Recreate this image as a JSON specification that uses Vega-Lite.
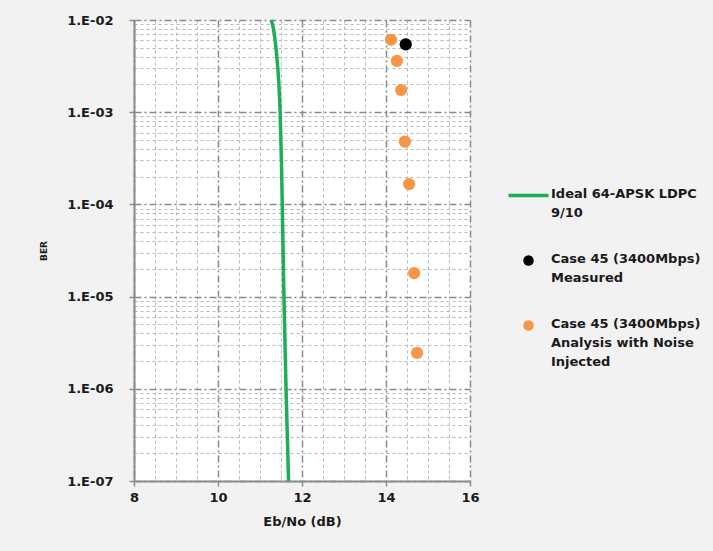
{
  "$schema": "https://vega.github.io/schema/vega-lite/v6.json",
  "width": 336,
  "height": 461,
  "autosize": "none",
  "padding": {"left": 134, "top": 20, "right": 243, "bottom": 70},
  "background": "#f2f2f2",
  "config": {
    "view": {"fill": "white", "stroke": null},
    "font": "DejaVu Sans",
    "axis": {
      "labelFont": "DejaVu Sans",
      "labelFontSize": 13,
      "labelFontWeight": "bold",
      "labelColor": "#1a1a1a",
      "titleFont": "DejaVu Sans",
      "titleFontWeight": "bold",
      "titleColor": "#1a1a1a",
      "domainColor": "#8c8c8c",
      "domainWidth": 2,
      "tickColor": "#8c8c8c",
      "tickWidth": 1.5,
      "tickSize": 5,
      "labelOverlap": false,
      "labelFlush": false
    }
  },
  "datasets": {
    "ideal": [
      {"ebno": 11.27, "ber": 0.01, "series": "Ideal 64-APSK LDPC 9/10"},
      {"ebno": 11.32, "ber": 0.008, "series": "Ideal 64-APSK LDPC 9/10"},
      {"ebno": 11.36, "ber": 0.006, "series": "Ideal 64-APSK LDPC 9/10"},
      {"ebno": 11.4, "ber": 0.004, "series": "Ideal 64-APSK LDPC 9/10"},
      {"ebno": 11.45, "ber": 0.002, "series": "Ideal 64-APSK LDPC 9/10"},
      {"ebno": 11.48, "ber": 0.001, "series": "Ideal 64-APSK LDPC 9/10"},
      {"ebno": 11.51, "ber": 0.0003, "series": "Ideal 64-APSK LDPC 9/10"},
      {"ebno": 11.53, "ber": 0.0001, "series": "Ideal 64-APSK LDPC 9/10"},
      {"ebno": 11.57, "ber": 0.00001, "series": "Ideal 64-APSK LDPC 9/10"},
      {"ebno": 11.62, "ber": 0.000001, "series": "Ideal 64-APSK LDPC 9/10"},
      {"ebno": 11.68, "ber": 0.0000001, "series": "Ideal 64-APSK LDPC 9/10"}
    ],
    "points": [
      {"ebno": 14.12, "ber": 0.0061, "series": "Case 45 (3400Mbps) Analysis with Noise Injected"},
      {"ebno": 14.26, "ber": 0.0036, "series": "Case 45 (3400Mbps) Analysis with Noise Injected"},
      {"ebno": 14.36, "ber": 0.00174, "series": "Case 45 (3400Mbps) Analysis with Noise Injected"},
      {"ebno": 14.45, "ber": 0.00048, "series": "Case 45 (3400Mbps) Analysis with Noise Injected"},
      {"ebno": 14.55, "ber": 0.000166, "series": "Case 45 (3400Mbps) Analysis with Noise Injected"},
      {"ebno": 14.67, "ber": 0.000018, "series": "Case 45 (3400Mbps) Analysis with Noise Injected"},
      {"ebno": 14.74, "ber": 0.00000245, "series": "Case 45 (3400Mbps) Analysis with Noise Injected"},
      {"ebno": 14.47, "ber": 0.00545, "series": "Case 45 (3400Mbps) Measured"}
    ]
  },
  "encoding": {
    "x": {
      "field": "ebno",
      "type": "quantitative",
      "scale": {"domain": [8, 16], "nice": false, "zero": false},
      "axis": {
        "title": "Eb/No (dB)",
        "titleFontSize": 13,
        "titlePadding": 11,
        "labelPadding": 5,
        "values": [8, 8.5, 9, 9.5, 10, 10.5, 11, 11.5, 12, 12.5, 13, 13.5, 14, 14.5, 15, 15.5, 16],
        "labelExpr": "datum.value % 2 == 0 ? format(datum.value, 'd') : ''",
        "tickOpacity": {"condition": {"test": "datum.value % 2 == 0", "value": 1}, "value": 0},
        "gridDash": {"condition": {"test": "datum.value % 2 == 0", "value": [7, 3, 2, 3]}, "value": [3, 3]},
        "gridColor": {"condition": {"test": "datum.value % 2 == 0", "value": "#8a8a8a"}, "value": "#b8b8b8"},
        "gridWidth": {"condition": {"test": "datum.value % 2 == 0", "value": 1.5}, "value": 1}
      }
    },
    "y": {
      "field": "ber",
      "type": "quantitative",
      "scale": {"type": "log", "domain": [0.0000001, 0.01], "nice": false},
      "axis": {
        "title": "BER",
        "titleFontSize": 9,
        "titlePadding": 18,
        "labelPadding": 16,
        "values": [1e-7, 2e-7, 3e-7, 4e-7, 5e-7, 6e-7, 7e-7, 8e-7, 9e-7, 1e-6, 2e-6, 3e-6, 4e-6, 5e-6, 6e-6, 7e-6, 8e-6, 9e-6, 1e-5, 2e-5, 3e-5, 4e-5, 5e-5, 6e-5, 7e-5, 8e-5, 9e-5, 1e-4, 2e-4, 3e-4, 4e-4, 5e-4, 6e-4, 7e-4, 8e-4, 9e-4, 1e-3, 2e-3, 3e-3, 4e-3, 5e-3, 6e-3, 7e-3, 8e-3, 9e-3, 1e-2],
        "labelExpr": "abs(log(datum.value)/LN10 - round(log(datum.value)/LN10)) < 0.001 ? '1.E-' + format(-round(log(datum.value)/LN10), '02d') : ''",
        "tickOpacity": {"condition": {"test": "abs(log(datum.value)/LN10 - round(log(datum.value)/LN10)) < 0.001", "value": 1}, "value": 0},
        "gridDash": {"condition": {"test": "abs(log(datum.value)/LN10 - round(log(datum.value)/LN10)) < 0.001", "value": [7, 3, 2, 3]}, "value": [3, 3]},
        "gridColor": {"condition": {"test": "abs(log(datum.value)/LN10 - round(log(datum.value)/LN10)) < 0.001", "value": "#8a8a8a"}, "value": "#b8b8b8"},
        "gridWidth": {"condition": {"test": "abs(log(datum.value)/LN10 - round(log(datum.value)/LN10)) < 0.001", "value": 1.5}, "value": 1}
      }
    }
  },
  "layer": [
    {
      "data": {"name": "ideal"},
      "mark": {"type": "line", "strokeWidth": 3.5, "interpolate": "monotone"},
      "encoding": {
        "order": {"field": "ber", "type": "quantitative"},
        "color": {
          "field": "series",
          "type": "nominal",
          "scale": {
            "domain": ["Ideal 64-APSK LDPC 9/10", "Case 45 (3400Mbps) Measured", "Case 45 (3400Mbps) Analysis with Noise Injected"],
            "range": ["#1fae54", "#000000", "#f79646"]
          },
          "legend": {
            "title": null,
            "orient": "none",
            "legendX": 388,
            "legendY": 169,
            "labelFont": "DejaVu Sans",
            "labelFontSize": 13,
            "labelFontWeight": "bold",
            "labelColor": "#1a1a1a",
            "labelLimit": 300,
            "labelOffset": 16,
            "labelBaseline": "top",
            "symbolSize": 1600,
            "gridAlign": "all",
            "rowPadding": 13,
            "labelExpr": "datum.label == 'Ideal 64-APSK LDPC 9/10' ? ['Ideal 64-APSK LDPC', '9/10'] : datum.label == 'Case 45 (3400Mbps) Measured' ? ['Case 45 (3400Mbps)', 'Measured'] : ['Case 45 (3400Mbps)', 'Analysis with Noise', 'Injected']",
            "encode": {
              "labels": {"update": {"lineHeight": {"value": 19}, "dy": {"value": -8}}},
              "symbols": {"update": {
                "shape": {"signal": "datum.value == 'Ideal 64-APSK LDPC 9/10' ? 'stroke' : 'circle'"},
                "size": {"signal": "datum.value == 'Ideal 64-APSK LDPC 9/10' ? 1600 : 110"},
                "strokeWidth": {"signal": "datum.value == 'Ideal 64-APSK LDPC 9/10' ? 3.5 : 0"},
                "stroke": {"signal": "datum.value == 'Ideal 64-APSK LDPC 9/10' ? '#1fae54' : 'transparent'"},
                "fill": {"signal": "datum.value == 'Ideal 64-APSK LDPC 9/10' ? 'transparent' : datum.value == 'Case 45 (3400Mbps) Measured' ? '#000000' : '#f79646'"},
                "opacity": {"value": 1}
              }}
            }
          }
        }
      }
    },
    {
      "data": {"name": "points"},
      "mark": {"type": "point", "filled": true, "size": 150, "opacity": 1, "shape": "circle"},
      "encoding": {
        "color": {"field": "series", "type": "nominal"}
      }
    }
  ]
}
